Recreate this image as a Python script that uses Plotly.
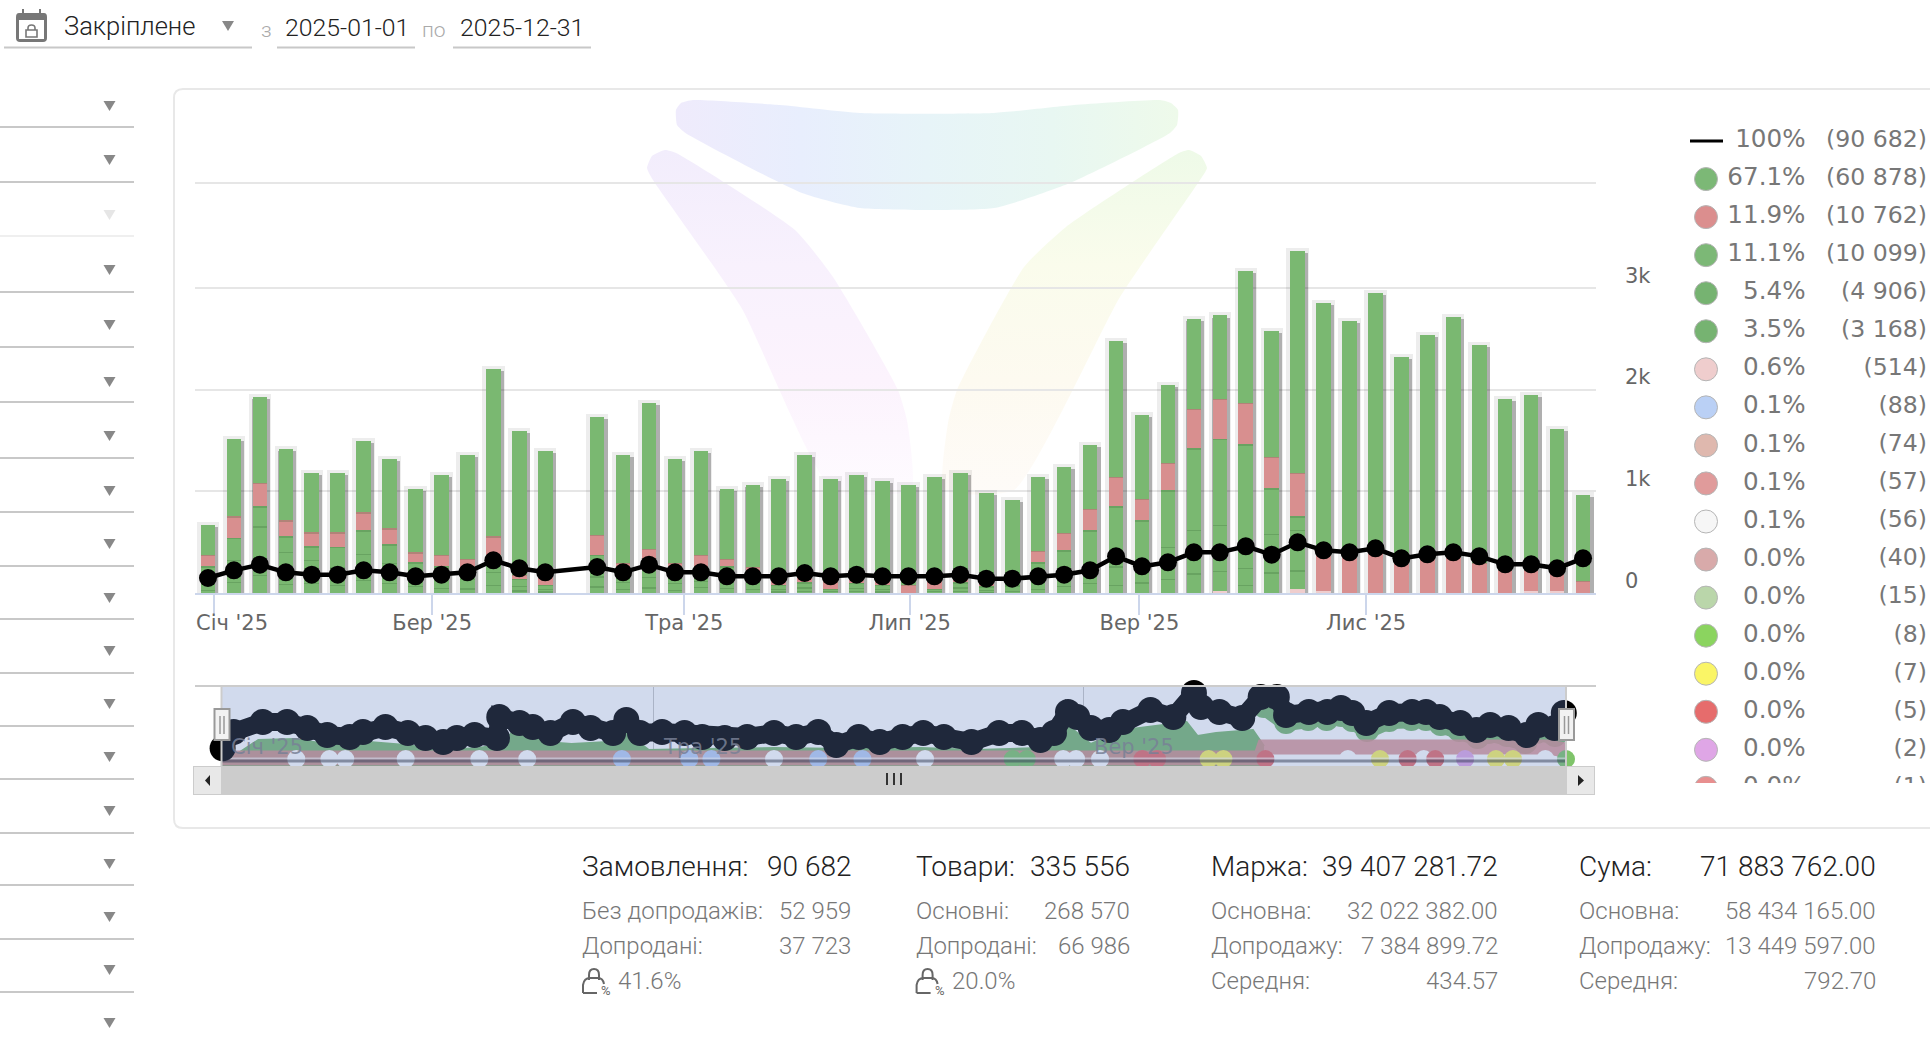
import plotly.graph_objects as go

# ---------- weekly data ----------
weeks = [0,1,2,3,4,5,6,7,8,9,10,11,12,13,15,16,17,18,19,20,21,22,23,24,25,26,27,28,29,30,31,32,33,34,35,36,37,38,39,40,41,42,43,44,45,46,47,48,49,50,51,52,53]
upsold_main = [295,764,846,705,587,587,705,685,626,787,1023,1649,1416,1170,1160,1065,1436,1026,1023,688,810,977,1196,1010,1000,957,983,1013,1019,888,754,728,649,629,1337,826,767,885,826,1298,1239,2183,2478,2301,2511,1980,2163,2341,2147,1682,1721,1419,846]
returned = [115,213,233,157,138,144,177,157,98,115,92,180,39,148,197,98,141,92,148,75,59,66,59,72,66,66,82,89,59,33,10,115,174,213,292,213,272,390,390,410,311,429,354,377,443,344,377,377,295,229,207,174,121]
green_b = [150,213,197,154,131,200,233,184,130,120,110,170,70,40,213,90,140,100,110,120,90,40,50,25,50,40,0,25,50,35,80,160,220,330,590,400,560,800,850,1216,446,131,0,0,0,0,0,0,0,0,0,0,0]
green_c = [80,220,475,311,230,170,252,197,99,90,90,130,45,27,100,70,100,70,60,90,70,27,35,12,30,27,0,12,35,20,50,100,130,190,180,210,310,430,450,170,380,400,0,0,0,0,0,0,0,0,0,0,0]
green_d = [32,108,180,92,98,82,131,98,72,52,46,77,26,15,64,37,55,33,59,52,37,15,20,6,18,15,0,6,20,11,24,42,70,96,82,105,140,193,195,76,203,180,0,0,0,0,0,0,0,0,0,0,0]
pale = [0,0,0,0,0,0,0,0,0,0,0,0,0,0,0,0,0,0,0,0,0,0,0,0,0,0,0,0,0,0,0,0,0,0,0,0,0,0,23,0,0,43,23,0,0,0,0,0,0,0,23,23,0]
orders = [984,1489,1856,1358,1200,1200,1489,1358,1096,1200,1358,2145,1620,1358,1706,1358,1856,1358,1358,1096,1096,1096,1312,1093,1203,1093,1093,1093,1203,940,940,1093,1203,1487,2405,1749,2012,2668,2668,3061,2515,3324,2799,2668,2930,2274,2537,2668,2405,1880,1880,1618,2274]

month_pos = [8.64, 18.36, 27.05, 35.9, 44.64]
month_text = ["Бер '25", "Тра '25", "Лип '25", "Вер '25", "Лис '25"]

# ---------- overview strip data ----------
nav_days = [0.3,3.3,11.2,17.8,23.3,28.7,34.8,38.4,44.5,50.6,55.4,60.2,63.9,68.7,74.8,75.4,80.9,84.5,89.3,95.4,100.2,106.3,109.9,113.6,119.6,125.7,130.5,136.6,142.7,150,156,162,166.9,173,178.7,184.9,190.5,196.1,203.6,211.1,217.3,222.3,226,229.8,232.3,236,241,244.7,252.2,258.4,264,265.9,270.9,277.1,282.1,286.5,289,295.2,300.2,303.9,307,310.8,317,323.2,327,330.7,336.3,340.7,344.4,349.4,354.4,357.5,361.9,364.4]
nav_total = [17.7,34,44,44,38,31,29,34,39,33,28,24,28,31,28,49,43,39,33,44,38,33,46,33,34,33,29,28,29,33,29,34,21,29,24,29,33,29,24,33,33,26,33,54,49,38,36,44,56,49,73,59,54,48,69,69,51,54,54,58,53,43,53,54,54,49,43,36,41,38,31,41,38,53]
area_days = [0,5,10,20,30,40,50,60,70,76,79,88,95,105,110,116,130,150,170,190,205,222,230,236,245,262,265,270,280,283]
area_vals = [6,14,26,27,21,24,21,16,18,22,34,24,22,24,33,16,17,18,17,18,16,18,40,22,36,44,30,33,36,20]
band_days = [283,289,295,300,304,307,311,317,323,327,331,336,341,344,349,354,357,362,364]
band_vals = [60,44,47,47,51,46,36,46,47,47,42,36,29,34,31,24,34,31,46]
pink_days = [0,60,120,180,240,282,283,300,320,340,360,365]
pink_vals = [8,8,8,8,8,8,19,20,20,19,19,16]
dot_groups = [
    ("#ffffff", [20.3,29.3,33.6,50,70,83,150,191,228.5,232,238.5,305.8,326.4,359.4]),
    ("#b9cff5", [108.7,127,133,162,174]),
    ("#7fc46a", [214.8,218.6,365]),
    ("#faf463", [268,272,314.5,346,350.6]),
    ("#e66c6c", [250,254,283.4,322,329.5]),
    ("#dfa6e6", [337.6]),
]

# ---------- legend and summary text ----------
legend_pct = ["100%","67.1%","11.9%","11.1%","5.4%","3.5%","0.6%","0.1%","0.1%","0.1%","0.1%","0.0%","0.0%","0.0%","0.0%","0.0%","0.0%","0.0%"]
legend_cnt = ["(90 682)","(60 878)","(10 762)","(10 099)","(4 906)","(3 168)","(514)","(88)","(74)","(57)","(56)","(40)","(15)","(8)","(7)","(5)","(2)","(1)"]
legend_col = [None,"#7CB876","#DB8E8E","#7CB876","#76B371","#76B371","#EFCDCD","#BAD0F5","#DFB8AE","#E09B9B","#F6F6F6","#D8AAAA","#BAD6AA","#8BD45F","#FAF566","#E66C6C","#DFA6E6","#E88F8F"]

summary = [
    (581, 852, "Замовлення:", "90 682", [("Без допродажів:", "52 959"), ("Допродані:", "37 723")], "41.6%"),
    (914.6, 1130.5, "Товари:", "335 556", [("Основні:", "268 570"), ("Допродані:", "66 986")], "20.0%"),
    (1210, 1498.5, "Маржа:", "39 407 281.72", [("Основна:", "32 022 382.00"), ("Допродажу:", "7 384 899.72"), ("Середня:", "434.57")], None),
    (1578, 1877, "Сума:", "71 883 762.00", [("Основна:", "58 434 165.00"), ("Допродажу:", "13 449 597.00"), ("Середня:", "792.70")], None),
]

filter_lines = [127,182,236,292,347,402,458,512,566,619,673,726,779,833,885,939,992]
filter_arrows = [106,160,215,270,325,382,436,491,544,598,651,704,757,811,864,917,970,1023]

# ---------- page geometry (pixels) ----------
W, H = 1930, 1038
CHART_L, CHART_R, CHART_T, CHART_B = 195, 1596, 100, 593
NAV_L, NAV_R, NAV_T, NAV_B = 221.5, 1566, 686, 766
LEG_L, LEG_R, LEG_T, LEG_B = 1660, 1930, 120, 783
Y_MAX = 4849
LINE_MAX = 32350

def dom_x(a, b):
    return [a / W, b / W]

def dom_y(top, bottom):
    return [1 - bottom / H, 1 - top / H]

fig = go.Figure()

# ---------- watermark behind the chart ----------
def swoosh(xs, ys, gtype, stops):
    n = len(stops) - 1
    fig.add_trace(go.Scatter(
        x=xs + xs[:1], y=ys + ys[:1], mode="lines", fill="toself",
        line=dict(width=0, shape="spline", smoothing=0.5),
        fillgradient=dict(type=gtype, colorscale=[[i / n, c] for i, c in enumerate(stops)]),
        hoverinfo="skip", showlegend=False, xaxis="x", yaxis="y"))

swoosh([693,780,860,994,1074,1160,1171,1178,1177,1170,1070,994,860,802,685.5,677,676,681],
       [100,105,113,113,105,100,103,110,125,133,183,208,208,193,133,125,110,103],
       "horizontal", ["#efebfc","#e8eefd","#e7f4f8","#e8f7f2","#eefaea"])
swoosh([665,676,795,833,898,907.5,911,833,741,653,647,652],
       [150,153,230,277,390,423,490,490,307,180,168,156],
       "vertical", ["#fefbff","#fcf3fd","#f8f1fd","#f2edfc"])
swoosh([1189,1201,1207,1200,1120,1014,944,948,957,1024,1066,1179],
       [150,156,168,180,297,490,490,423,390,267,227,153],
       "vertical", ["#fefbf8","#fdfaf0","#fafcec","#eefae8"])

# ---------- bars: halo and side shadow under the stacks ----------
totals = [sum(v) for v in zip(upsold_main, returned, green_b, green_c, green_d, pale)]
fig.add_trace(go.Bar(x=weeks, y=[t + 28 for t in totals], width=0.86, xaxis="x2", yaxis="y2",
                     marker=dict(color="rgba(0,0,0,0.07)", line_width=0), showlegend=False, hoverinfo="skip"))
fig.add_trace(go.Bar(x=[w + 0.06 for w in weeks], y=[t - 25 for t in totals], width=0.69, xaxis="x2", yaxis="y2",
                     marker=dict(color="rgba(0,0,0,0.26)", line_width=0), showlegend=False, hoverinfo="skip"))

# Stack from the axis upwards
stack = [(pale, "#EFCDCD"), (green_d, "#7AB871"), (green_c, "#7AB871"), (green_b, "#7AB871"),
         (returned, "#D88F8F"), (upsold_main, "#7AB871")]
base = [0] * len(weeks)
for vals, color in stack:
    fig.add_trace(go.Bar(x=weeks, y=vals, base=base, width=0.56, xaxis="x2", yaxis="y2",
                         marker=dict(color=color, line_width=0), showlegend=False, hoverinfo="skip"))
    top = [b + v for b, v in zip(base, vals)]
    if vals is not upsold_main and vals is not pale:
        # thin dark seam where the next segment starts
        seam_x = [w for w, v in zip(weeks, vals) if v > 0]
        seam_b = [t - 12 for t, v in zip(top, vals) if v > 0]
        fig.add_trace(go.Bar(x=seam_x, y=[12] * len(seam_x), base=seam_b, width=0.56,
                             xaxis="x2", yaxis="y2", marker=dict(color="rgba(40,90,40,0.22)", line_width=0),
                             showlegend=False, hoverinfo="skip"))
    base = top

fig.add_trace(go.Scatter(x=weeks, y=orders, mode="lines+markers", xaxis="x2", yaxis="y3",
                         line=dict(color="#000000", width=4.5), marker=dict(color="#000000", size=18),
                         showlegend=False, hoverinfo="skip"))

# ---------- overview strip ----------
nav = dict(xaxis="x3", yaxis="y4", showlegend=False, hoverinfo="skip", cliponaxis=False)
fig.add_trace(go.Scatter(x=area_days, y=area_vals, mode="lines", fill="tozeroy", fillcolor="#7AB871",
                         line=dict(color="#7AB871", width=2), **nav))
fig.add_trace(go.Scatter(x=band_days, y=band_vals, mode="lines+markers", line=dict(color="#7AB871", width=18),
                         marker=dict(color="#7AB871", size=24), **nav))
fig.add_trace(go.Scatter(x=pink_days, y=pink_vals, mode="lines", line=dict(color="rgba(216,143,143,0.85)", width=15), **nav))
for color, days in dot_groups:
    fig.add_trace(go.Scatter(x=days, y=[7] * len(days), mode="markers", marker=dict(color=color, size=18), **nav))
fig.add_trace(go.Scatter(x=[0, 365], y=[7.5, 7.5], mode="lines", line=dict(color="rgba(255,255,255,0.6)", width=2), **nav))
fig.add_trace(go.Scatter(x=[0, 365], y=[5, 5], mode="lines", line=dict(color="rgba(30,30,40,0.5)", width=3), **nav))
fig.add_trace(go.Scatter(x=nav_days, y=nav_total, mode="lines+markers", line=dict(color="#000000", width=18),
                         marker=dict(color="#000000", size=26), **nav))

# ---------- legend column ----------
rows = list(range(len(legend_pct)))
leg = dict(xaxis="x4", yaxis="y5", showlegend=False, hoverinfo="skip", cliponaxis=True)
fig.add_trace(go.Scatter(x=[1706] * (len(rows) - 1), y=rows[1:], mode="markers",
                         marker=dict(color=legend_col[1:], size=23, line=dict(color="#b5b5b5", width=1)), **leg))
fig.add_trace(go.Scatter(x=[1805.5] * len(rows), y=rows, mode="text", text=legend_pct, textposition="middle left",
                         textfont=dict(family="DejaVu Sans", size=24.6, color="#777777"), **leg))
fig.add_trace(go.Scatter(x=[1927] * len(rows), y=rows, mode="text", text=legend_cnt, textposition="middle left",
                         textfont=dict(family="DejaVu Sans", size=23.6, color="#777777"), **leg))
fig.add_trace(go.Scatter(x=[1690, 1723], y=[0, 0], mode="lines", line=dict(color="#000000", width=3), **leg))

# ---------- page furniture ----------
shapes, notes = [], []

def sh(**k):
    k.setdefault("xref", "x")
    k.setdefault("yref", "y")
    shapes.append(k)

def rect(x0, y0, x1, y1, fill=None, line=None, lw=1, layer="above"):
    sh(type="rect", x0=x0, y0=y0, x1=x1, y1=y1, fillcolor=fill, layer=layer,
       line=dict(color=line or "rgba(0,0,0,0)", width=lw if line else 0))

def hline(x0, x1, y, color, lw=2):
    sh(type="line", x0=x0, x1=x1, y0=y, y1=y, line=dict(color=color, width=lw))

def vline(x, y0, y1, color, lw=2):
    sh(type="line", x0=x, x1=x, y0=y0, y1=y1, line=dict(color=color, width=lw))

def path(d, fill=None, line=None, lw=1.5):
    sh(type="path", path=d, fillcolor=fill, line=dict(color=line or "rgba(0,0,0,0)", width=lw if line else 0))

def tri(cx, cy, w, h, color):
    path(f"M {cx-w/2} {cy-h/2} L {cx+w/2} {cy-h/2} L {cx} {cy+h/2} Z", fill=color)

def text(x, y, s, size, color, anchor="left", family="Roboto", weight=300):
    notes.append(dict(x=x, y=y, xref="x", yref="y", text=s, showarrow=False, xanchor=anchor, yanchor="middle",
                      borderpad=0, font=dict(family=family, size=size, color=color, weight=weight)))

# card outline, running off the right edge of the page
r = 9
path(f"M 1940 89 L {174+r} 89 Q 174 89 174 {89+r} L 174 {828-r} Q 174 828 {174+r} 828 L 1940 828", line="#e8e8e8", lw=2)

# header controls
path("M 19 13 L 44 13 Q 47 13 47 17 L 47 38 Q 47 42 43 42 L 20 42 Q 16 42 16 38 L 16 17 Q 16 13 19 13 Z", fill="#777777")
vline(23, 9, 14, "#777777", 2)
vline(40, 9, 14, "#777777", 2)
rect(19, 20, 44, 39, fill="#ffffff")
path("M 26 30 L 37 30 L 37 37 L 26 37 Z", line="#777777", lw=1.6)
path("M 28 30 L 28 28 Q 28 25 31.5 25 Q 35 25 35 28 L 35 30", line="#777777", lw=1.6)
text(62.5, 26, "Закріплене", 25.5, "#222222")
tri(228, 26, 12, 10, "#888888")
text(260, 30, "з", 21, "#aaaaaa")
text(284, 27, "2025-01-01", 24.8, "#222222")
text(421, 30, "по", 21, "#aaaaaa")
text(459, 27, "2025-12-31", 24.8, "#222222")
hline(4, 252, 47.5, "#c8c8c8")
hline(277, 415, 47.5, "#c8c8c8")
hline(453, 591, 47.5, "#c8c8c8")

# filter column on the left
for i, y in enumerate(filter_lines):
    hline(0, 134, y, "#efefef" if i == 2 else "#c8c8c8")
for i, y in enumerate(filter_arrows):
    tri(109.5, y, 12, 10, "#e6e6e6" if i == 2 else "#888888")

# first month label sits inside the plot's left edge
notes.append(dict(x=-0.5, y=623, xref="x2", yref="y", text="Січ '25", showarrow=False, xanchor="left", yanchor="middle",
                  borderpad=0, font=dict(family="DejaVu Sans", size=21, color="#666666")))

# overview strip overlays
rect(NAV_L, NAV_T, NAV_R, NAV_B, fill="rgba(102,133,194,0.3)")
hline(CHART_L, CHART_R, NAV_T, "#cccccc")
vline(NAV_L, NAV_T, NAV_B, "#cccccc")
vline(NAV_R, NAV_T, NAV_B, "#cccccc")
text(230, 747, "Січ '25", 21, "rgba(120,128,150,0.85)", family="DejaVu Sans", weight=400)
text(662, 747, "Тра '25", 21, "rgba(120,128,150,0.85)", family="DejaVu Sans", weight=400)
text(1093, 747, "Вер '25", 21, "rgba(120,128,150,0.85)", family="DejaVu Sans", weight=400)
rect(193, NAV_B, 1595, 795, fill="#cccccc")
rect(194, 767, 221, 794, fill="#e8e8e8")
rect(1567, 767, 1594, 794, fill="#e8e8e8")
path("M 210 775 L 210 786 L 205 780.5 Z", fill="#222222")
path("M 1578 775 L 1578 786 L 1584 780.5 Z", fill="#222222")
for gx in (887, 894, 901):
    vline(gx, 773, 785, "#333333", 2)
for hx0, hx1 in ((214.5, 229.5), (1559, 1574)):
    rect(hx0, 709, hx1, 740, fill="#f2f2f2", line="#999999", lw=2)
    mid = (hx0 + hx1) / 2
    vline(mid - 2, 716, 734, "#999999", 1.5)
    vline(mid + 2, 716, 734, "#999999", 1.5)

# summary blocks
ROW_Y = [911, 945.5, 980.5]
for left, right, head, value, lines, share in summary:
    text(left, 866, head, 28, "#222222")
    text(right, 866, value, 28, "#222222", anchor="right")
    for y, (label, val) in zip(ROW_Y, lines):
        text(left, y, label, 24, "#777777")
        text(right, y, val, 24, "#777777", anchor="right")
    if share:
        dx = left - 581
        path(f"M {583+dx} 993 L {583+dx} 985 Q {584+dx} 978 {590+dx} 978 L {598+dx} 978 Q {603+dx} 978 {604+dx} 984", line="#666666", lw=2)
        path(f"M {583+dx} 993 L {597+dx} 993", line="#666666", lw=2)
        path(f"M {589+dx} 980 L {589+dx} 975 Q {589+dx} 969 {594+dx} 969 Q {599+dx} 969 {599+dx} 975 L {599+dx} 980", line="#666666", lw=2)
        text(600 + dx, 990, "%", 13, "#666666", weight=400)
        text(left + 36, 980.5, share, 24, "#777777")

grid = dict(showgrid=False, zeroline=False, visible=False)
fig.update_layout(
    width=W, height=H, margin=dict(l=0, r=0, t=0, b=0), paper_bgcolor="#ffffff", plot_bgcolor="rgba(0,0,0,0)",
    barmode="overlay", showlegend=False, shapes=shapes, annotations=notes, bargap=0,
    xaxis=dict(domain=[0, 1], range=[0, W], fixedrange=True, **grid),
    yaxis=dict(domain=[0, 1], range=[H, 0], fixedrange=True, **grid),
    xaxis2=dict(domain=dom_x(CHART_L, CHART_R), range=[-0.5, 53.5], anchor="y2", showgrid=False, zeroline=False,
                showline=True, linecolor="#ccd6eb", linewidth=2, ticks="outside", ticklen=20, tickwidth=2,
                tickcolor="#ccd6eb", tickmode="array", tickvals=[0.24] + month_pos, ticktext=[""] + month_text,
                tickangle=0, ticklabelstandoff=-10,
                tickfont=dict(family="DejaVu Sans", size=21, color="#666666")),
    yaxis2=dict(domain=dom_y(CHART_T, CHART_B), range=[0, Y_MAX], anchor="x2", side="right", zeroline=False,
                showline=False, showgrid=True, gridcolor="#e6e6e6", gridwidth=2, tickmode="array",
                tickvals=[0, 1000, 2000, 3000, 4030], ticktext=["0", "1k", "2k", "3k", ""],
                ticklabelposition="outside top", ticklabelstandoff=28, ticklabelshift=2,
                tickfont=dict(family="DejaVu Sans", size=21, color="#666666")),
    yaxis3=dict(overlaying="y2", range=[0, LINE_MAX], side="right", anchor="x2", **grid),
    xaxis3=dict(domain=dom_x(NAV_L, NAV_R), range=[0, 365], anchor="y4", showgrid=True, gridcolor="#c8c8c8", gridwidth=1,
                zeroline=False, showline=False, tickmode="array", tickvals=[117.4, 234], showticklabels=False, ticks=""),
    yaxis4=dict(domain=dom_y(NAV_T, NAV_B), range=[0, 80], anchor="x3", **grid),
    xaxis4=dict(domain=dom_x(LEG_L, LEG_R), range=[LEG_L, LEG_R], anchor="y5", **grid),
    yaxis5=dict(domain=dom_y(LEG_T, LEG_B), range=[(LEG_B - 141) / 38.05, (LEG_T - 141) / 38.05], anchor="x4", **grid),
)

fig.write_html("out.html", config=dict(displayModeBar=False))
